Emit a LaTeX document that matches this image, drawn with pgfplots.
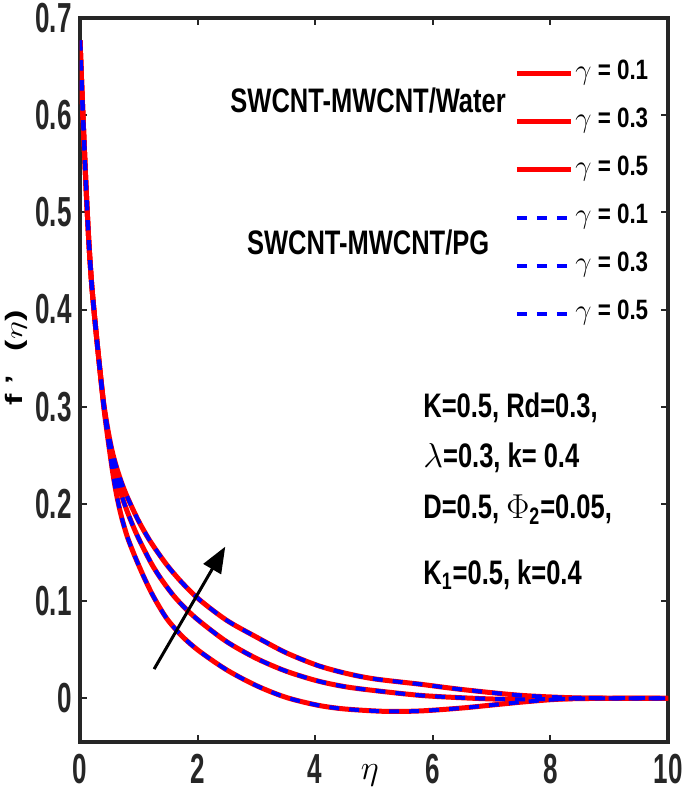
\documentclass[border=0pt]{standalone}
\usepackage{fontspec}
\setmainfont{Liberation Sans}
\newfontfamily\tickfont[FakeStretch=0.62]{Liberation Sans}
\newfontfamily\annfont[FakeStretch=0.75]{Liberation Sans}
\newfontfamily\legfont[FakeStretch=0.8]{Liberation Sans}
\usepackage{pgfplots}
\usepackage{pgfplotstable}
\pgfplotsset{compat=1.18}
\usetikzlibrary{arrows.meta}

\definecolor{axgray}{HTML}{262626}

% gamma = 0.1 (lowest curve)
\pgfplotstableread{
eta f
0 0.677
0.05 0.600
0.10 0.530
0.15 0.470
0.20 0.425
0.26 0.385
0.33 0.343
0.40 0.302
0.45 0.278
0.50 0.256
0.56 0.231
0.62 0.210
0.70 0.188
0.80 0.167
0.90 0.151
0.99 0.138
1.10 0.123
1.22 0.108
1.35 0.094
1.50 0.080
1.75 0.063
2.04 0.048
2.50 0.029
3.00 0.013
3.50 0.001
4.03 -0.007
4.50 -0.011
5.20 -0.0135
5.80 -0.013
6.50 -0.010
7.00 -0.007
7.50 -0.004
8.00 -0.0015
8.50 0
9.00 0
10.0 0
}\gone

% gamma = 0.3
\pgfplotstableread{
eta f
0 0.677
0.05 0.600
0.10 0.530
0.15 0.470
0.20 0.425
0.26 0.385
0.33 0.343
0.40 0.304
0.45 0.282
0.50 0.263
0.56 0.243
0.65 0.221
0.75 0.201
0.87 0.182
1.00 0.164
1.22 0.138
1.40 0.121
1.60 0.105
1.80 0.092
2.04 0.079
2.50 0.058
3.00 0.041
3.50 0.028
4.03 0.018
4.50 0.012
5.00 0.008
5.78 0.003
6.50 0.0005
7.20 -0.001
8.00 -0.0008
9.00 0
10.0 0
}\gthree

% gamma = 0.5 (highest curve)
\pgfplotstableread{
eta f
0 0.677
0.05 0.600
0.10 0.530
0.15 0.470
0.20 0.425
0.26 0.385
0.33 0.343
0.40 0.305
0.45 0.285
0.50 0.268
0.56 0.251
0.65 0.232
0.75 0.215
0.85 0.201
1.00 0.182
1.20 0.161
1.48 0.137
1.75 0.118
2.04 0.101
2.50 0.080
3.00 0.063
3.50 0.047
4.03 0.034
4.50 0.026
5.00 0.020
5.78 0.0145
6.50 0.009
7.50 0.003
8.50 0.0003
9.50 0
10.0 0
}\gfive

\begin{document}
\begin{tikzpicture}
\begin{axis}[
    scale only axis,
    width=294pt, height=362pt,
    xmin=0, xmax=10, ymin=-0.045, ymax=0.7,
    xtick={0,2,4,6,8,10},
    ytick={0,0.1,0.2,0.3,0.4,0.5,0.6,0.7},
    tick align=inside,
    major tick length=3.5pt,
    tick style={line width=1pt, color=axgray},
    axis line style={line width=1.6pt, color=axgray},
    /pgf/number format/assume math mode=true,
    ticklabel style={font=\tickfont\bfseries\fontsize{21}{21}\selectfont, text=axgray, inner sep=0pt},
    xticklabel style={yshift=-6pt},
    yticklabel style={xshift=-4pt},
    xlabel={$\eta$},
    xlabel style={at={(axis description cs:0.493,-0.046)}, anchor=center,
        font=\fontsize{18}{18}\selectfont},
    ylabel={\scalebox{1}[0.7]{\textbf{f\hspace{5pt}'\hspace{12pt}(}$\eta$\textbf{)}}},
    ylabel style={at={(axis description cs:-0.109,0.53)}, anchor=center,
        inner sep=0pt, font=\fontsize{17}{17}\selectfont},
    legend cell align=left,
    legend image code/.code={\draw[#1] (0pt,0pt) -- (27pt,0pt);},
    legend style={at={(axis description cs:0.738,0.943)}, anchor=north west,
        draw=none, fill=none, inner sep=0pt, row sep=10pt,
        font=\legfont\bfseries\fontsize{14}{14}\selectfont,
        nodes={inner xsep=1pt, inner ysep=0pt, text height=10pt, text depth=4pt}},
]
\addplot[red, line width=2.5pt, smooth, tension=0.5] table[x=eta, y=f] {\gone};
\addlegendentry{$\gamma$ = 0.1}
\addplot[red, line width=2.5pt, smooth, tension=0.5] table[x=eta, y=f] {\gthree};
\addlegendentry{$\gamma$ = 0.3}
\addplot[red, line width=2.5pt, smooth, tension=0.5] table[x=eta, y=f] {\gfive};
\addlegendentry{$\gamma$ = 0.5}
\addplot[blue, line width=2pt, dash pattern=on 5pt off 5pt, smooth, tension=0.5] table[x=eta, y=f] {\gone};
\addlegendentry{$\gamma$ = 0.1}
\addplot[blue, line width=2pt, dash pattern=on 5pt off 5pt, smooth, tension=0.5] table[x=eta, y=f] {\gthree};
\addlegendentry{$\gamma$ = 0.3}
\addplot[blue, line width=2pt, dash pattern=on 5pt off 5pt, smooth, tension=0.5] table[x=eta, y=f] {\gfive};
\addlegendentry{$\gamma$ = 0.5}

\draw[-{Triangle[length=13pt,width=10pt]}, line width=1.5pt]
    (axis cs:1.26,0.030) -- (axis cs:2.47,0.156);

\begin{scope}[every node/.style={font=\annfont\bfseries\fontsize{17}{17}\selectfont}]
\node at (axis cs:4.9,0.615) {SWCNT-MWCNT/Water};
\node at (axis cs:4.9,0.469) {SWCNT-MWCNT/PG};
\node[anchor=west] at (axis cs:5.72,0.299) {K=0.5, Rd=0.3,};
\node[anchor=west] at (axis cs:5.72,0.247) {$\lambda$=0.3, k= 0.4};
\node[anchor=west] at (axis cs:5.72,0.194) {D=0.5, $\Phi$\textsubscript{2}=0.05,};
\node[anchor=west] at (axis cs:5.72,0.127) {K\textsubscript{1}=0.5, k=0.4};
\end{scope}

\coordinate (bl) at (rel axis cs:0,0);
\end{axis}
\pgfresetboundingbox
\path (bl) ++(-40pt,-30pt) rectangle ++(342.5pt,401pt);
\end{tikzpicture}
\end{document}
